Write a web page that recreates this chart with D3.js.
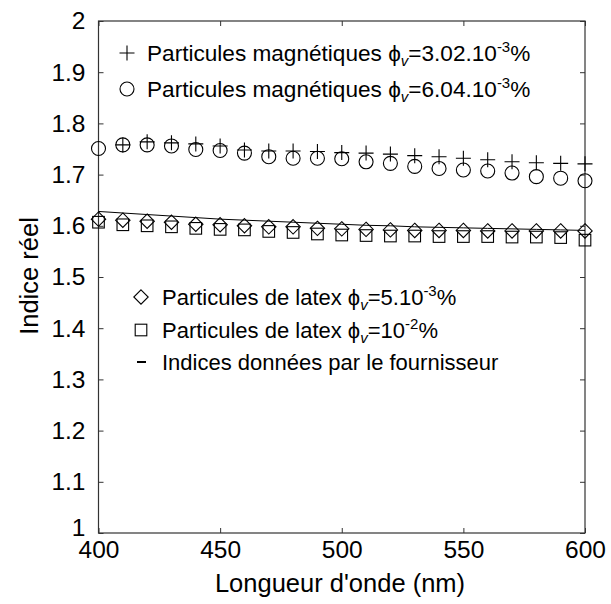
<!DOCTYPE html>
<html><head><meta charset="utf-8">
<script src="https://cdn.jsdelivr.net/npm/d3@7"></script>
<style>body{margin:0;background:#fff}svg{display:block}text{font-family:"Liberation Sans",Arial,sans-serif;fill:#000}</style>
</head><body>
<svg id="c" width="611" height="604"></svg>
<script>
const wavelengths = [400,410,420,430,440,450,460,470,480,490,500,510,520,530,540,550,560,570,580,590,600];
const magn302 = [null,1.758,1.764,1.762,1.760,1.756,1.748,1.746,1.746,1.745,1.743,1.742,1.740,1.737,1.735,1.732,1.729,1.725,1.723,1.722,1.721];
const magn604 = [1.751,1.758,1.758,1.756,1.749,1.747,1.742,1.735,1.732,1.732,1.731,1.725,1.722,1.716,1.712,1.709,1.707,1.703,1.696,1.693,1.688];
const latex5 = [1.613,1.611,1.609,1.607,1.603,1.602,1.600,1.598,1.598,1.595,1.594,1.593,1.592,1.591,1.591,1.591,1.590,1.590,1.590,1.590,1.590];
const latex10 = [1.607,1.602,1.600,1.598,1.595,1.593,1.592,1.589,1.587,1.584,1.582,1.581,1.580,1.580,1.579,1.579,1.579,1.578,1.578,1.577,1.572];
const supplier = [1.628,1.625,1.622,1.619,1.616,1.613,1.611,1.609,1.607,1.605,1.603,1.601,1.600,1.598,1.597,1.596,1.595,1.594,1.593,1.592,1.591];
const xTicks = [400,450,500,550,600];
const yTicks = [1,1.1,1.2,1.3,1.4,1.5,1.6,1.7,1.8,1.9,2];

const svg = d3.select("#c");
const L=98.5, R=585, T=21, B=533;
const x = d3.scaleLinear().domain([400,600]).range([L,R]);
const y = d3.scaleLinear().domain([1,2]).range([B,T]);
const tl = 5;
const FONT = "'Liberation Sans',Arial,sans-serif";

svg.append("rect").attr("x",L).attr("y",T).attr("width",R-L).attr("height",B-T)
  .attr("fill","none").attr("stroke","#333").attr("stroke-width",1.2);

const fmtY = d => d===1||d===2 ? String(d) : d3.format(".1f")(d);
const gl = svg.append("g").attr("transform",`translate(${L},0)`)
  .call(d3.axisLeft(y).tickValues(yTicks).tickSize(-tl).tickPadding(13).tickFormat(fmtY));
const gr = svg.append("g").attr("transform",`translate(${R},0)`)
  .call(d3.axisRight(y).tickValues(yTicks).tickSize(-tl).tickFormat(""));
const gb = svg.append("g").attr("transform",`translate(0,${B})`)
  .call(d3.axisBottom(x).tickValues(xTicks).tickSize(-tl).tickPadding(8));
const gt = svg.append("g").attr("transform",`translate(0,${T})`)
  .call(d3.axisTop(x).tickValues(xTicks).tickSize(-tl).tickFormat(""));
[gl,gr,gb,gt].forEach(g=>{g.select(".domain").remove();
  g.selectAll("line").attr("stroke","#333");
  g.selectAll("text").style("font-family",FONT).style("font-size","24.5px").attr("fill","#000");});
gl.selectAll(".tick").filter(d=>d===1).select("text").attr("dy","0.1em");

svg.append("text").attr("x",340).attr("y",592).attr("text-anchor","middle").style("font-size","25.5px").text("Longueur d'onde (nm)");
svg.append("text").attr("transform",`translate(38,276) rotate(-90)`).attr("text-anchor","middle").style("font-size","25.5px").text("Indice réel");

const lineData = wavelengths.map((w,i)=>[w,supplier[i]]);
svg.append("path").datum(lineData).attr("fill","none").attr("stroke","#000").attr("stroke-width",1)
  .attr("d", d3.line().x(d=>x(d[0])).y(d=>y(d[1])).curve(d3.curveMonotoneX));

const sw = 1.1;
function drawPlus(g,cx,cy,s){g.append("path").attr("d",`M${cx-s},${cy}H${cx+s}M${cx},${cy-s}V${cy+s}`).attr("stroke","#000").attr("stroke-width",sw).attr("fill","none");}
function drawCircle(g,cx,cy,r){g.append("circle").attr("cx",cx).attr("cy",cy).attr("r",r).attr("stroke","#000").attr("stroke-width",sw).attr("fill","none");}
function drawDiamond(g,cx,cy,s){g.append("path").attr("d",`M${cx},${cy-s}L${cx+s},${cy}L${cx},${cy+s}L${cx-s},${cy}Z`).attr("stroke","#000").attr("stroke-width",sw).attr("fill","none");}
function drawSquare(g,cx,cy,s){g.append("rect").attr("x",cx-s).attr("y",cy-s).attr("width",2*s).attr("height",2*s).attr("stroke","#000").attr("stroke-width",sw).attr("fill","none");}

const gm = svg.append("g");
wavelengths.forEach((w,i)=>{
  if(latex10[i]!=null) drawSquare(gm,x(w),y(latex10[i]),5.8);
  if(latex5[i]!=null) drawDiamond(gm,x(w),y(latex5[i]),7.2);
  if(magn604[i]!=null) drawCircle(gm,x(w),y(magn604[i]),7);
  if(magn302[i]!=null) drawPlus(gm,x(w),y(magn302[i]),7.5);
});

function legendText(xp,yp,fs,pre,sub,mid,sup,post){
  const t = svg.append("text").attr("x",xp).attr("y",yp).style("font-size",fs+"px");
  t.append("tspan").text(pre);
  t.append("tspan").text(sub).attr("dy",5).style("font-size","15px").style("font-style","italic");
  t.append("tspan").text(mid).attr("dy",-5);
  t.append("tspan").text(sup).attr("dy",-9).style("font-size","15px");
  t.append("tspan").text(post).attr("dy",9);
}
const lg = svg.append("g");
drawPlus(lg,127,53,7.5);
legendText(147,61,22.6,"Particules magnétiques \u03D5","v","=3.02.10","-3","%");
drawCircle(lg,127,89,7);
legendText(147,97,22.6,"Particules magnétiques \u03D5","v","=6.04.10","-3","%");
drawDiamond(lg,141,297,7.2);
legendText(162,305,22,"Particules de latex \u03D5","v","=5.10","-3","%");
drawSquare(lg,141,330,5.8);
legendText(162,338,22,"Particules de latex \u03D5","v","=10","-2","%");
lg.append("path").attr("d","M137,362H146").attr("stroke","#000").attr("stroke-width",2);
svg.append("text").attr("x",162).attr("y",370).style("font-size","22px").text("Indices données par le fournisseur");
</script>
</body></html>
